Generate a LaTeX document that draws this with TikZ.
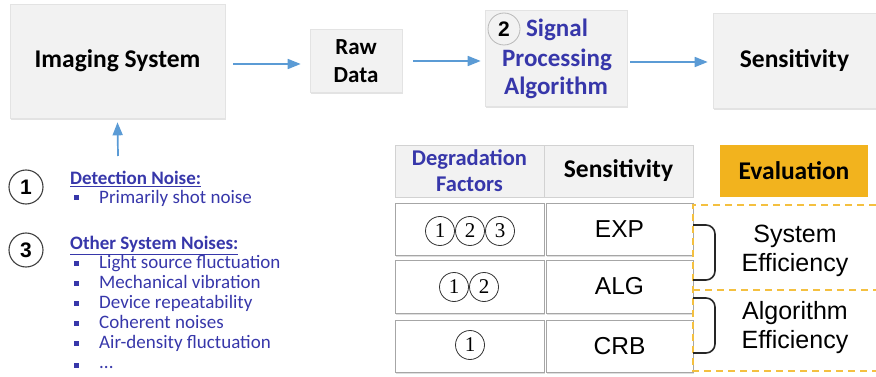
\documentclass[tikz,border=0pt]{standalone}
\usepackage{fontspec}
\setmainfont{Carlito}
\newfontfamily\arialf{Liberation Sans}
\newfontfamily\seriff{Liberation Serif}
\usetikzlibrary{arrows.meta,shadows}
\definecolor{boxfill}{HTML}{F2F2F2}
\definecolor{arrowblue}{HTML}{5B9BD5}
\definecolor{txtblue}{HTML}{3737AA}
\definecolor{evalorange}{HTML}{F2B31E}
\definecolor{dashorange}{HTML}{F4C040}
\begin{document}
\begin{tikzpicture}[x=1pt,y=-1pt,
  topbox/.style={fill=boxfill, draw=gray!22, line width=0.6pt,
    drop shadow={shadow xshift=1.2pt,shadow yshift=-2pt,opacity=0.22},
    inner sep=0pt, align=center},
  toptext/.style={font=\fontsize{25.5}{30}\selectfont\bfseries},
  bluetext/.style={font=\fontsize{25}{28}\selectfont\bfseries, text=txtblue, inner sep=0pt},
  flow/.style={-{Triangle[length=13pt,width=10pt]}, draw=arrowblue, line width=1.7pt},
  numcirc/.style={circle, draw=black!75, line width=1.1pt, minimum size=34pt, inner sep=0pt,
    font=\arialf\fontsize{21}{21}\selectfont\bfseries},
  listhead/.style={anchor=base west, inner sep=0pt, text=txtblue,
    font=\fontsize{19}{22}\selectfont\bfseries},
  item/.style={anchor=base west, inner sep=0pt, text=txtblue,
    font=\fontsize{19}{22}\selectfont},
  bul/.style={fill=txtblue, minimum size=5pt, inner sep=0pt},
  hdr/.style={fill=boxfill, draw=gray!35, line width=0.6pt, inner sep=0pt, align=center,
    drop shadow={shadow xshift=1pt,shadow yshift=-1.5pt,opacity=0.2},
    minimum height=52pt},
  cell/.style={fill=white, draw=gray!70, line width=1pt, inner sep=0pt,
    drop shadow={shadow xshift=1pt,shadow yshift=-1.5pt,opacity=0.25},
    font=\arialf\fontsize{24.5}{24.5}\selectfont},
  cn/.style={circle, draw=black!80, line width=0.8pt, minimum size=29pt, inner sep=0pt,
    font=\seriff\fontsize{21}{21}\selectfont},
  dashline/.style={draw=dashorange, line width=1.5pt, dash pattern=on 7pt off 5pt},
  bracket/.style={draw=black!85, line width=1.6pt, rounded corners=9pt},
  effic/.style={align=center, inner sep=0pt, font=\arialf\fontsize{25}{29}\selectfont}
]
\useasboundingbox (0,0) rectangle (876,377);

% ---- top flow ----
\node[topbox, toptext, minimum width=215pt, minimum height=114pt] (img) at (117.5,61) {Imaging System};
\node[topbox, minimum width=92pt, minimum height=63pt,
      font=\fontsize{23}{28}\selectfont\bfseries] (raw) at (356,61) {Raw\\Data};
\node[topbox, minimum width=142pt, minimum height=96pt] (spa) at (556,58) {};
\node[bluetext] (sig) at (557,30) {Signal};
\node[bluetext] (proc) at (557,60) {Processing};
\node[bluetext] (algo) at (556,88) {Algorithm};
\node[circle, draw=gray!55, line width=0.8pt, minimum size=32pt, inner sep=0pt,
      font=\arialf\fontsize{21}{21}\selectfont\bfseries] (c2) at (504,29) {2};
\node[topbox, toptext, minimum width=163pt, minimum height=95pt] (sens) at (794.5,61) {Sensitivity};

\coordinate (a1s) at (233,64);
\coordinate (a2s) at (413,61);
\coordinate (a3s) at (630,62);
\draw[flow] (a1s) -- ([xshift=-9pt]a1s -| raw.west);
\draw[flow] (a2s) -- ([xshift=-4pt]a2s -| spa.west);
\draw[flow] (a3s) -- ([xshift=-5pt]a3s -| sens.west);

\coordinate (noisetop) at (118,156);
\draw[flow] (noisetop) -- ([yshift=-4pt]img.south);

% ---- noise list ----
\node[numcirc] (n1) at (26,187) {1};
\node[listhead] (dn) at (70,185) {\underline{Detection Noise:}};
\node[bul] (b0) at (76,198) {};
\node[item] (i0) at (99,203.5) {Primarily shot noise};

\node[numcirc] (n3) at (26,250) {3};
\node[listhead] (osn) at (70,249.5) {\underline{Other System Noises:}};
\node[bul] (b1) at (76,263) {};
\node[item] (i1) at (99,268.5) {Light source fluctuation};
\node[bul] (b2) at (76,283) {};
\node[item] (i2) at (99,288.5) {Mechanical vibration};
\node[bul] (b3) at (76,303) {};
\node[item] (i3) at (99,308.5) {Device repeatability};
\node[bul] (b4) at (76,323) {};
\node[item] (i4) at (99,328.5) {Coherent noises};
\node[bul] (b5) at (76,343) {};
\node[item] (i5) at (99,348) {Air-density fluctuation};
\node[bul] (b6) at (76,365) {};
\node[item] (i6) at (99,368) {...};

% ---- table ----
\node[hdr, minimum width=149pt, text=txtblue,
      font=\fontsize{22.5}{26}\selectfont\bfseries] (hdf) at (469.5,171) {Degradation\\Factors};
\node[hdr, minimum width=149pt, font=\fontsize{25.5}{26}\selectfont\bfseries] (hse) at (618.5,171) {Sensitivity};
\node[fill=evalorange, minimum width=148pt, minimum height=52pt, inner sep=0pt,
      font=\fontsize{25.5}{26}\selectfont\bfseries] (hev) at (794,171) {Evaluation};

\node[cell, minimum width=149pt, minimum height=51pt] (l1) at (469.5,229.5) {};
\node[cell, minimum width=147pt, minimum height=51pt] (r1) at (619.5,229.5) {EXP};
\node[cell, minimum width=149pt, minimum height=53pt] (l2) at (469.5,286.5) {};
\node[cell, minimum width=147pt, minimum height=53pt] (r2) at (619.5,286.5) {ALG};
\node[cell, minimum width=149pt, minimum height=52pt] (l3) at (469.5,346) {};
\node[cell, minimum width=147pt, minimum height=52pt] (r3) at (619.5,346) {CRB};

\node[cn] (a1) at (440,231) {1};
\node[cn] (a2) at (470,231) {2};
\node[cn] (a3) at (500,231) {3};
\node[cn] (b1c) at (454,287) {1};
\node[cn] (b2c) at (484,287) {2};
\node[cn] (c1c) at (470,345) {1};

% dashed evaluation frame
\coordinate (dtl) at (693,205);
\coordinate (dtr) at (876,205);
\coordinate (dml) at (693,290);
\coordinate (dmr) at (876,290);
\coordinate (dbl) at (693,371);
\coordinate (dbr) at (876,371);
\draw[dashline] (dtr) -- (dtl) -- (dbl) -- (dbr);
\draw[dashline] (dml) -- (dmr);

% brackets
\coordinate (k1a) at (693,225);
\coordinate (k1b) at (693,280);
\coordinate (k2a) at (693,298);
\coordinate (k2b) at (693,353);
\draw[bracket] (k1a) -- (715,225) -- (715,280) -- (k1b);
\draw[bracket] (k2a) -- (715,298) -- (715,353) -- (k2b);

\node[effic] (sye) at (795,251) {System\\Efficiency};
\node[effic] (ale) at (795,328) {Algorithm\\Efficiency};
\end{tikzpicture}
\end{document}
